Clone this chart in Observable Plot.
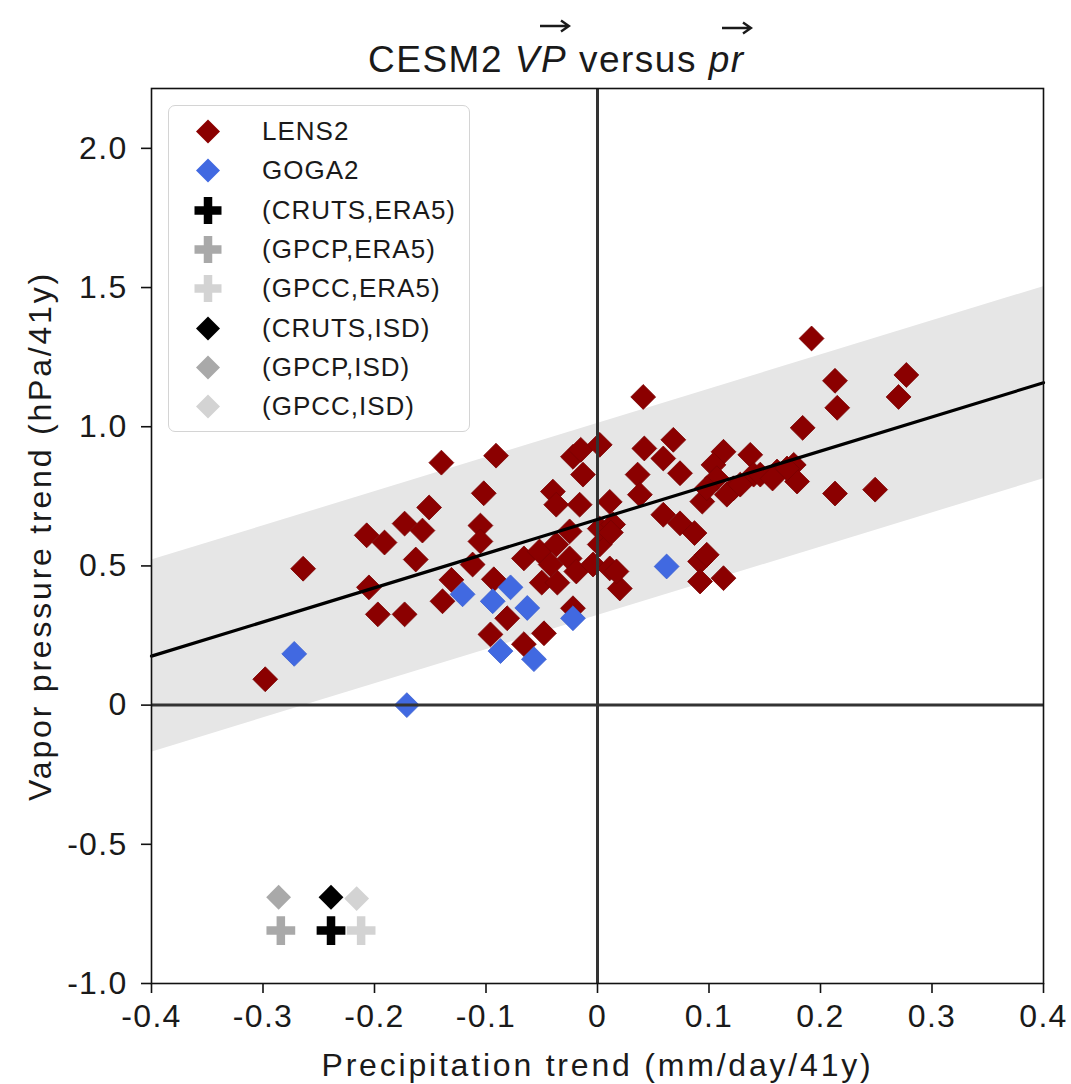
<!DOCTYPE html>
<html>
<head>
<meta charset="utf-8">
<script src="https://cdn.jsdelivr.net/npm/d3@7"></script>
<script src="https://cdn.jsdelivr.net/npm/@observablehq/plot@0.6"></script>
<style>
  body { margin: 0; background: #fff; }
  #wrap { position: relative; width: 1071px; height: 1084px; font-family: "Liberation Sans", Arial, sans-serif; color: #1a1a1a; overflow: hidden; }
  #title { position: absolute; left: 368px; top: 41px; font-size: 37px; line-height: 37px; letter-spacing: 1.5px; white-space: nowrap; }
  .vec { position: relative; font-style: italic; display: inline-block; }
  .arr { position: absolute; top: -22px; }
  #chart { position: absolute; left: 0; top: 80px; }
  #legend { position: absolute; left: 168px; top: 105px; width: 302px; height: 327px; border: 1.5px solid #d4d4d4; border-radius: 7px; background: rgba(255,255,255,0.85); box-sizing: border-box; }
  .row { position: absolute; left: 0; height: 39px; width: 100%; }
  .row svg { position: absolute; left: 19px; top: 0; }
  .row span { position: absolute; left: 93px; top: 6px; font-size: 26px; line-height: 26px; letter-spacing: 1px; white-space: nowrap; }
  g[aria-label="x-axis label"] text, g[aria-label="y-axis label"] text { letter-spacing: 2.8px; }
</style>
</head>
<body>
<div id="wrap">
  <div id="title">CESM2 <span class="vec">VP<svg class="arr" style="left:24px" width="32" height="14"><path d="M1,7 H29 M22,1.5 L30,7 L22,12.5" stroke="#1a1a1a" stroke-width="2.4" fill="none"/></svg></span> versus <span class="vec">pr<svg class="arr" style="left:12px;top:-20px" width="32" height="14"><path d="M1,7 H29 M22,1.5 L30,7 L22,12.5" stroke="#1a1a1a" stroke-width="2.4" fill="none"/></svg></span></div>
  <div id="chart"></div>
  <div id="legend"></div>
</div>
<script>
// ---- LENS2 ensemble (precip trend, vapor pressure trend)
const lensPr = [-0.298,-0.264,-0.140,-0.151,-0.207,-0.191,-0.173,-0.157,-0.163,-0.205,-0.197,-0.173,-0.139,-0.131,
  -0.091,-0.102,-0.105,-0.105,-0.112,-0.093,-0.081,-0.096,-0.066,-0.048,-0.022,-0.066,-0.052,-0.042,-0.037,-0.025,
  -0.025,-0.019,-0.050,-0.036,-0.004,0.002,0.002,0.014,0.020,0.011,-0.040,-0.037,-0.016,-0.022,-0.013,-0.015,
  0.002,0.042,0.041,0.036,0.038,0.011,0.192,0.213,0.215,0.184,0.213,0.068,0.059,0.074,0.059,0.074,0.087,0.012,
  0.017,0.092,0.092,0.113,0.094,0.113,0.104,0.137,0.122,0.140,0.161,0.176,0.179,0.107,0.098,0.277,0.270,0.249,
  0.116,0.128,0.146,0.170,0.157,0.098];
const lensVP = [0.093,0.490,0.871,0.710,0.610,0.584,0.652,0.627,0.523,0.423,0.326,0.326,0.373,0.450,
  0.896,0.761,0.645,0.588,0.505,0.452,0.312,0.254,0.219,0.258,0.348,0.527,0.552,0.505,0.577,0.624,
  0.527,0.480,0.440,0.440,0.505,0.577,0.634,0.649,0.419,0.491,0.767,0.720,0.720,0.892,0.828,0.917,
  0.935,0.922,1.107,0.828,0.756,0.730,1.317,1.165,1.068,0.996,0.760,0.953,0.886,0.833,0.684,0.653,0.618,0.620,
  0.480,0.516,0.444,0.456,0.731,0.910,0.863,0.899,0.779,0.828,0.839,0.863,0.803,0.815,0.779,1.186,1.107,0.774,
  0.756,0.792,0.828,0.850,0.814,0.540];
// ---- GOGA2 ensemble
const gogaPr = [-0.272,-0.171,-0.121,-0.094,-0.078,-0.063,-0.087,-0.057,-0.022,0.062];
const gogaVP = [0.184,0.000,0.398,0.373,0.423,0.349,0.194,0.165,0.312,0.498];
// ---- observational pairs
const obsNames = ["(CRUTS,ERA5)","(GPCP,ERA5)","(GPCC,ERA5)","(CRUTS,ISD)","(GPCP,ISD)","(GPCC,ISD)"];
const obsPr = [-0.239,-0.284,-0.212,-0.239,-0.286,-0.216];
const obsVP = [-0.81,-0.81,-0.81,-0.69,-0.69,-0.695];
const obsColors = ["#000000","#a9a9a9","#d3d3d3","#000000","#a9a9a9","#d3d3d3"];
const obsShapes = ["plus","plus","plus","diamond","diamond","diamond"];
// ---- regression fit of LENS2 and spread band
const fitSlope = 1.2275;
const fitIntercept = 0.667;
const bandHalfWidth = 0.345;
const fitX = [-0.4, 0.4];
// ---- ticks
const xTicks = [-0.4,-0.3,-0.2,-0.1,0,0.1,0.2,0.3,0.4];
const yTicks = [-1.0,-0.5,0,0.5,1.0,1.5,2.0];
// ---- legend
const legendLabels = ["LENS2","GOGA2", ...obsNames];
const legendColors = ["#8b0000","#4169e1", ...obsColors];
const legendShapes = ["diamond","diamond", ...obsShapes];

const lens = lensPr.map((x, i) => ({x, y: lensVP[i]}));
const goga = gogaPr.map((x, i) => ({x, y: gogaVP[i]}));
const obs = obsNames.map((n, i) => ({name: n, x: obsPr[i], y: obsVP[i], color: obsColors[i], shape: obsShapes[i]}));
const fit = fitX.map(x => ({x, y: fitIntercept + fitSlope * x}));
const fmt = d => d === 0 ? "0" : d.toFixed(1);

const plot = Plot.plot({
  width: 1071,
  height: 1004,
  marginTop: 8,
  marginBottom: 101,
  marginLeft: 151,
  marginRight: 28,
  style: {fontFamily: "'Liberation Sans', Arial, sans-serif", fontSize: "32px", letterSpacing: "1.3px", color: "#1a1a1a", background: "transparent", overflow: "visible"},
  x: {domain: [-0.4, 0.4], ticks: xTicks, tickFormat: fmt, tickSize: 10, tickPadding: 11,
      label: "Precipitation trend (mm/day/41y)", labelAnchor: "center", labelOffset: 92, labelArrow: "none"},
  y: {domain: [-1, 2.215], ticks: yTicks, tickFormat: fmt, tickSize: 10, tickPadding: 14,
      label: "Vapor pressure trend (hPa/41y)", labelAnchor: "center", labelOffset: 123, labelArrow: "none"},
  marks: [
    Plot.areaY(fit, {x: "x", y1: d => d.y - bandHalfWidth, y2: d => d.y + bandHalfWidth, fill: "#e6e6e6"}),
    Plot.dot(lens, {x: "x", y: "y", symbol: "diamond2", r: 11.2, fill: "#8b0000", stroke: "#7a0000", strokeWidth: 0.8}),
    Plot.dot(goga, {x: "x", y: "y", symbol: "diamond2", r: 11.2, fill: "#4169e1", stroke: "#3a5fd0", strokeWidth: 0.8}),
    Plot.dot(obs.filter(d => d.shape === "diamond"), {x: "x", y: "y", symbol: "diamond2", r: 11.2, fill: d => d.color, stroke: "none"}),
    Plot.dot(obs.filter(d => d.shape === "plus"), {x: "x", y: "y", symbol: "plus", r: 9.3, stroke: d => d.color, strokeWidth: 8.5, fill: "none"}),
    Plot.ruleX([0], {stroke: "#333", strokeWidth: 3}),
    Plot.ruleY([0], {stroke: "#333", strokeWidth: 3}),
    Plot.line(fit, {x: "x", y: "y", stroke: "black", strokeWidth: 3.2}),
    Plot.frame({stroke: "#111", strokeWidth: 1.6})
  ]
});
plot.querySelectorAll('g[aria-label="x-axis tick"], g[aria-label="y-axis tick"]').forEach(g => { g.setAttribute("stroke-width", "1.6"); g.setAttribute("stroke", "#111"); });
document.getElementById("chart").appendChild(plot);

// legend
const leg = document.getElementById("legend");
legendLabels.forEach((lab, i) => {
  const row = document.createElement("div");
  row.className = "row";
  row.style.top = (6 + i * 39.3) + "px";
  const c = legendColors[i];
  const shape = legendShapes[i] === "diamond"
    ? `<path d="M20,7.5 L32,19.5 L20,31.5 L8,19.5 Z" fill="${c}"/>`
    : `<path d="M20,6 V33 M6.5,19.5 H33.5" stroke="${c}" stroke-width="8.5" fill="none"/>`;
  row.innerHTML = `<svg width="40" height="39">${shape}</svg><span>${lab}</span>`;
  leg.appendChild(row);
});
</script>
</body>
</html>
